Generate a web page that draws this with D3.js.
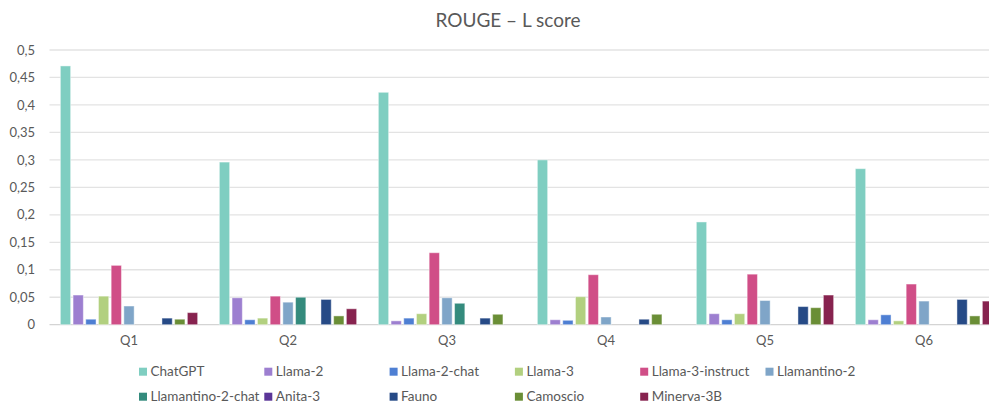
<!DOCTYPE html>
<html><head><meta charset="utf-8">
<script src="https://cdn.jsdelivr.net/npm/d3@7"></script>
<style>
html,body{margin:0;padding:0;background:#fff;overflow:hidden;}
svg{display:block;font-family:Lato,"Open Sans",sans-serif;}
</style></head><body>
<svg id="chart" width="989" height="408"></svg>
<script>
const categories = ["Q1","Q2","Q3","Q4","Q5","Q6"];
const seriesNames = ["ChatGPT","Llama-2","Llama-2-chat","Llama-3","Llama-3-instruct","Llamantino-2","Llamantino-2-chat","Anita-3","Fauno","Camoscio","Minerva-3B"];
const colors = ["#7FCEC1","#9D7FD0","#4E7FD3","#B2D07F","#D04E87","#7FA5C8","#348B7D","#5B3598","#264A86","#6A8E36","#87234F"];
const ChatGPT          = [0.471,0.296,0.423,0.300,0.187,0.284];
const Llama2           = [0.054,0.049,0.007,0.009,0.020,0.009];
const Llama2chat       = [0.010,0.009,0.012,0.008,0.009,0.018];
const Llama3           = [0.052,0.012,0.020,0.051,0.020,0.007];
const Llama3instruct   = [0.108,0.052,0.131,0.091,0.092,0.074];
const Llamantino2      = [0.034,0.041,0.049,0.014,0.044,0.043];
const Llamantino2chat  = [0,0.050,0.039,0,0,0];
const Anita3           = [0,0,0,0,0,0];
const Fauno            = [0.012,0.046,0.012,0.010,0.033,0.046];
const Camoscio         = [0.010,0.016,0.019,0.019,0.031,0.016];
const Minerva3B        = [0.022,0.029,0,0,0.054,0.043];
const seriesValues = [ChatGPT,Llama2,Llama2chat,Llama3,Llama3instruct,Llamantino2,Llamantino2chat,Anita3,Fauno,Camoscio,Minerva3B];
const yTicks = [0,0.05,0.1,0.15,0.2,0.25,0.3,0.35,0.4,0.45,0.5];
const title = "ROUGE – L score";

(function(){
const svg = d3.select("#chart");
const plotLeft = 49.5, plotRight = 1003.5, plotTop = 50, plotBottom = 324.7;
const textColor = "#595959";
const loc = d3.formatLocale({decimal:",",thousands:".",grouping:[3],currency:["","€"]});
const fmt = loc.format(".2~f");

const x0 = d3.scaleBand().domain(categories).range([plotLeft,plotRight]).padding(0);
const x1 = d3.scaleBand().domain(seriesNames).range([0,x0.bandwidth()]).paddingInner(0.19).paddingOuter(0.855);
const y = d3.scaleLinear().domain([0,0.5]).range([plotBottom,plotTop]);
const color = d3.scaleOrdinal().domain(seriesNames).range(colors);

// gridlines
svg.append("g").selectAll("line").data(yTicks).join("line")
  .attr("x1",plotLeft).attr("x2",plotRight)
  .attr("y1",d=>y(d)).attr("y2",d=>y(d))
  .attr("stroke",d=>d===0?"#d4d4d4":"#e3e3e3").attr("stroke-width",1.3);

// y axis labels
const yAxis = d3.axisLeft(y).tickValues(yTicks).tickFormat(fmt).tickSize(0).tickPadding(0);
const gy = svg.append("g").attr("transform",`translate(35,0)`).call(yAxis);
gy.select(".domain").remove();
gy.selectAll("text").attr("fill",textColor).style("font-size","13px").style("font-family","Lato,'Open Sans',sans-serif");

// bars
const groups = svg.append("g").selectAll("g").data(categories).join("g")
  .attr("transform",d=>`translate(${x0(d)},0)`);
groups.selectAll("rect").data((c,i)=>seriesNames.map((s,j)=>({s,v:seriesValues[j][i]})).filter(d=>d.v>0)).join("rect")
  .attr("x",d=>x1(d.s)).attr("width",x1.bandwidth())
  .attr("y",d=>y(d.v)).attr("height",d=>y(0)-y(d.v))
  .attr("fill",d=>color(d.s))
  .attr("stroke","rgba(255,255,255,0.45)").attr("stroke-width",1);

// x axis labels
const xAxis = d3.axisBottom(x0).tickSize(0).tickPadding(11);
const gx = svg.append("g").attr("transform",`translate(0,${plotBottom})`).call(xAxis);
gx.select(".domain").remove();
gx.selectAll("text").attr("fill",textColor).style("font-size","13px").style("font-family","Lato,'Open Sans',sans-serif");

// title
svg.append("text").attr("x",508).attr("y",27).attr("text-anchor","middle")
  .attr("fill",textColor).style("font-size","19px").text(title);

// legend
const legX0 = 139, legColW = 125.3, legRowY = [371.7, 396.7];
const leg = svg.append("g").selectAll("g").data(seriesNames).join("g")
  .attr("transform",(d,i)=>`translate(${legX0 + (i%6)*legColW},${legRowY[Math.floor(i/6)]})`);
leg.append("rect").attr("x",0).attr("y",-4).attr("width",8).attr("height",8).attr("fill",d=>color(d));
leg.append("text").attr("x",11.5).attr("y",0).attr("dy","0.35em")
  .attr("fill",textColor).style("font-size","13.5px").text(d=>d);
})();
</script>
</body></html>
